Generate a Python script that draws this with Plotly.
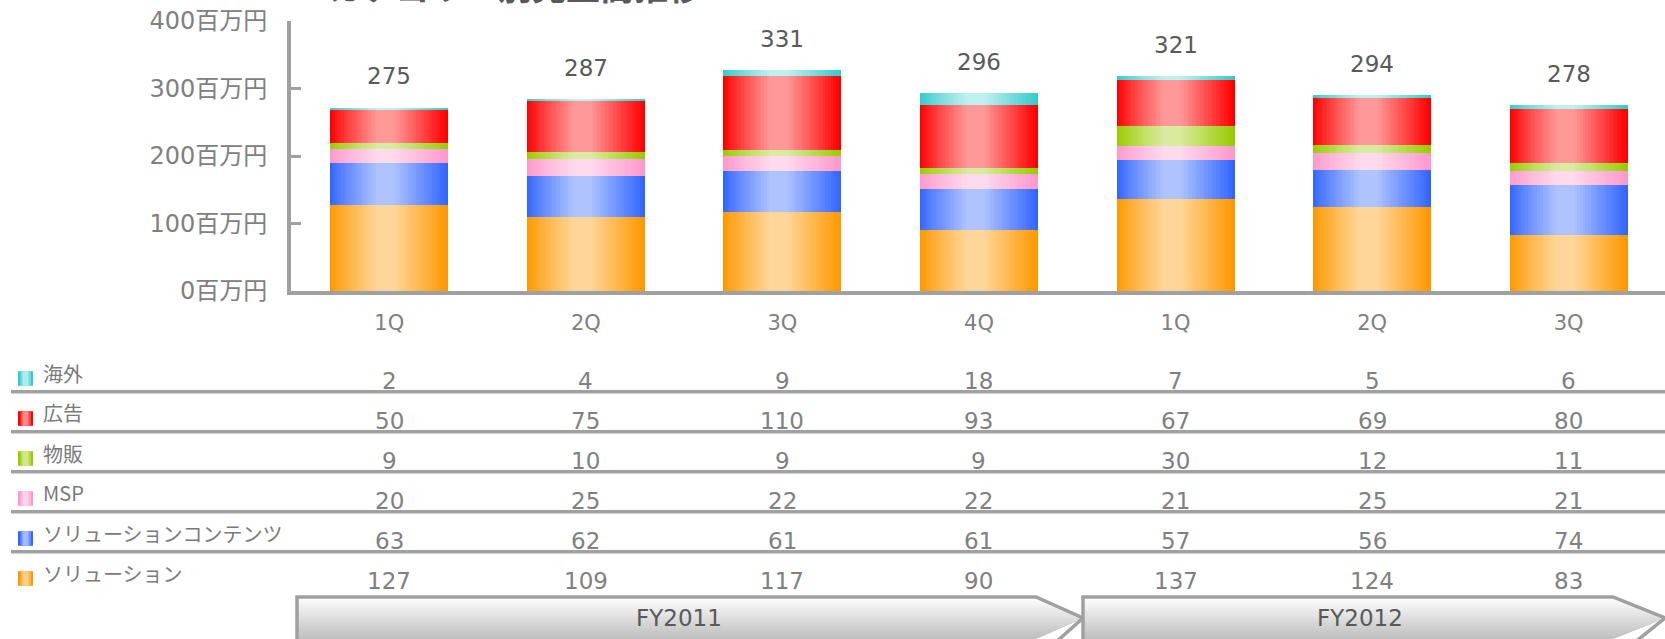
import plotly.graph_objects as go

# ---------------- data ----------------
quarters = ["1Q", "2Q", "3Q", "4Q", "1Q", "2Q", "3Q"]
fiscal_years = ["FY2011", "FY2012"]

solution = [127, 109, 117, 90, 137, 124, 83]
solution_contents = [63, 62, 61, 61, 57, 56, 74]
msp = [20, 25, 22, 22, 21, 25, 21]
merch = [9, 10, 9, 9, 30, 12, 11]
ads = [50, 75, 110, 93, 67, 69, 80]
overseas = [2, 4, 9, 18, 7, 5, 6]
totals = [275, 287, 331, 296, 321, 294, 278]

series_names = ["ソリューション", "ソリューションコンテンツ", "MSP", "物販", "広告", "海外"]
series_values = [solution, solution_contents, msp, merch, ads, overseas]
edge_colors = ["#FF9900", "#3366FF", "#FF99CC", "#99CC00", "#FF0000", "#33CCCC"]
center_colors = ["#FFD699", "#AEC3FF", "#FFD9EC", "#D9EB9E", "#FF9999", "#BFF0F0"]

title_text = "カテゴリー別売上高推移"
y_ticks = [0, 100, 200, 300, 400]
tick_suffix = "百万円"

# ---------------- layout geometry ----------------
W, H = 1665, 639
L, R, T, B = 291, 0, 21, 348
PW, PH = W - L - R, H - T - B
GRAY = "#A0A0A0"
TXT = "#808080"
FONT = "DejaVu Sans, Noto Sans CJK JP"


def px_x(px):
    return (px - L) / PW


def px_y(py):
    return (H - B - py) / PH


def hex2rgb(h):
    h = h.lstrip("#")
    return [int(h[i:i + 2], 16) for i in (0, 2, 4)]


def mix(c1, c2, t):
    a, b = hex2rgb(c1), hex2rgb(c2)
    return "rgb(%d,%d,%d)" % tuple(round(a[i] + (b[i] - a[i]) * t) for i in range(3))


xs = list(range(len(quarters)))
BAR_W = 0.6
N_LEV = 20
RISE, FALL = 0.39, 0.45  # share of width used by rising / falling gradient

fig = go.Figure()

bases = [0] * len(xs)
for name, vals, ec, cc in zip(series_names, series_values, edge_colors, center_colors):
    for k in range(N_LEV + 1):
        lv = k / N_LEV
        a = RISE * lv ** (1 / 0.85)
        b = 1 - FALL * lv
        fig.add_trace(go.Bar(
            x=xs, y=vals, base=list(bases),
            width=(b - a) * BAR_W, offset=-BAR_W / 2 + a * BAR_W,
            marker=dict(color=mix(ec, cc, lv), line=dict(width=0)),
            name=name, showlegend=False,
            hoverinfo="skip" if k else "y+name",
        ))
    bases = [bb + v for bb, v in zip(bases, vals)]

# total labels above the bars
for x, tot in zip(xs, totals):
    fig.add_annotation(x=x, y=tot, xref="x", yref="y", text=str(tot), showarrow=False,
                       yshift=29, xanchor="center", yanchor="middle",
                       font=dict(size=23, color="#595959", family=FONT))

shapes = []
# table rows: top to bottom
row_order = list(range(len(series_names)))[::-1]
for r, si in enumerate(row_order):
    ly = 373 + 40 * r
    vy = 381 + 40 * r
    iy = 378.5 + 40 * r
    fig.add_annotation(x=px_x(41), y=px_y(ly), xref="paper", yref="paper",
                       text=series_names[si], showarrow=False, xanchor="left", yanchor="middle",
                       font=dict(size=20, color="#7A7A7A", family="Noto Sans CJK JP"))
    for x, v in zip(xs, series_values[si]):
        fig.add_annotation(x=x, y=px_y(vy), xref="x", yref="paper", text=str(v),
                           showarrow=False, xanchor="center", yanchor="middle",
                           font=dict(size=23, color=TXT, family=FONT))
    # icon with a small horizontal gradient
    for (x0, x1, t) in [(18, 33, 0.0), (20.5, 31, 0.45), (22.5, 28.5, 0.9)]:
        shapes.append(dict(type="rect", xref="paper", yref="paper",
                           x0=px_x(x0), x1=px_x(x1), y0=px_y(iy - 7.3), y1=px_y(iy + 7.3),
                           fillcolor=mix(edge_colors[si], center_colors[si], t), line=dict(width=0)))
    if r < len(row_order) - 1:
        yl = 391.7 + 40 * r
        shapes.append(dict(type="line", xref="paper", yref="paper",
                           x0=px_x(11), x1=px_x(W), y0=px_y(yl), y1=px_y(yl),
                           line=dict(color=GRAY, width=3.5)))

# fiscal-year arrows
arrows = [(297, 1036, 1083), (1083, 1613, 1665)]
YTOP, YTIP, YBOT = 597, 618, 639


def right_x(xr, xt, y):
    return xr + (xt - xr) * (1 - abs(y - YTIP) / (YTIP - YTOP))


def path(pts, close=True):
    return "M " + " L ".join("%f,%f" % (px_x(a), px_y(b)) for a, b in pts) + (" Z" if close else "")


NG = 16
for (x0, xr, xt), fy in zip(arrows, fiscal_years):
    for k in range(NG, 0, -1):
        cut = YTOP + (YBOT - YTOP) * k / NG
        pts = [(x0, YTOP), (xr, YTOP)]
        if cut > YTIP:
            pts.append((xt, YTIP))
        pts += [(right_x(xr, xt, cut), cut), (x0, cut)]
        shapes.append(dict(type="path", xref="paper", yref="paper", path=path(pts),
                           fillcolor=mix("#FFFFFF", "#BEBEBE", (k - 0.5) / NG), line=dict(width=0)))
    outline = [(x0, YBOT + 6), (x0, YTOP), (xr, YTOP), (xt, YTIP), (xr, YBOT + 21)]
    shapes.append(dict(type="path", xref="paper", yref="paper", path=path(outline, close=False),
                       line=dict(color=GRAY, width=3.5)))
    fig.add_annotation(x=px_x((x0 + xr) / 2 + 12), y=px_y(YTIP), xref="paper", yref="paper",
                       text=fy, showarrow=False, xanchor="center", yanchor="middle",
                       font=dict(size=23, color="#595959", family=FONT))

# title (cut off at the top edge, as in the reference)
fig.add_annotation(x=px_x(326), y=px_y(12), xref="paper", yref="paper",
                   text="<b>" + title_text + "</b>", showarrow=False,
                   xanchor="left", yanchor="bottom",
                   font=dict(size=34, color="#595959", family="Noto Sans CJK JP"))

fig.update_layout(
    width=W, height=H, margin=dict(l=L, r=R, t=T, b=B),
    barmode="overlay", bargap=0,
    plot_bgcolor="white", paper_bgcolor="white",
    showlegend=False, shapes=shapes,
    font=dict(family=FONT, color=TXT),
)
fig.update_xaxes(range=[-0.5, 6.49], tickvals=xs, ticktext=quarters,
                 showline=True, linewidth=4, linecolor=GRAY, showgrid=False, zeroline=False,
                 ticks="", tickfont=dict(size=21, color=TXT, family=FONT), ticklabelstandoff=10)
fig.update_yaxes(range=[0, 400], tickvals=y_ticks, ticktext=[f"{v}{tick_suffix}" for v in y_ticks],
                 showline=True, linewidth=4, linecolor=GRAY, showgrid=False, zeroline=False,
                 ticks="inside", ticklen=10, tickwidth=3, tickcolor=GRAY,
                 tickfont=dict(size=24, color=TXT, family=FONT), ticklabelstandoff=15)

fig.write_html("out.html", config={"displayModeBar": False},
               post_script="document.body.style.margin='0px';")
